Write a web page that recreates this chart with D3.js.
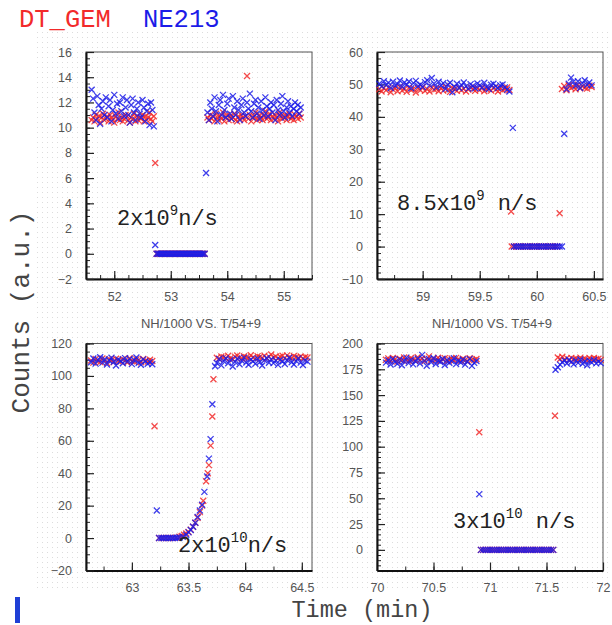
<!DOCTYPE html>
<html>
<head>
<meta charset="utf-8">
<script src="https://cdn.jsdelivr.net/npm/d3@7"></script>
<style>
  body { margin: 0; background: #fff; }
  svg { display: block; }
</style>
</head>
<body>
<svg id="chart" width="612" height="625"></svg>
<script>
// ---- data: runs are [startTime, step, values] or [times, values] ----
// panel 1 (2e9 n/s)
const gem1 = [
  [51.60, 0.025, [10.6,10.8,10.5,11.0,10.7,10.9,10.4,10.8,11.1,10.6,10.7,10.9,10.5,11.0,10.8,10.6,10.4,10.9,10.7,11.2,10.6,10.8,10.5,10.7,11.0,10.9,10.6,10.4,10.8,10.7,11.1,10.5,10.9,10.6,10.8,10.7,11.0,10.5,10.9,10.6,10.8,11.2,10.7,10.5,10.9]],
  [52.725, 0.025, [7.2]],
  [52.75, 0.025, [0,0,0,0,0,0,0,0,0,0,0,0,0,0,0,0,0,0,0,0,0,0,0,0,0,0,0,0,0,0,0,0,0,0,0]],
  [53.65, 0.025, [10.8,10.6,11.0,10.7,10.9,10.5,11.1,10.8,10.6,10.9,10.7,11.2,10.5,10.8,11.0,10.6,10.9,10.7,10.8,11.1,10.6,10.5,10.9,10.7,11.0,10.8,10.6,10.9,14.1,10.7,11.0,10.5,10.8,10.9,11.2,10.6,10.7,11.0,10.8,10.6,10.9,11.3,10.7,10.8,11.1,10.6,10.9,10.7,11.0,10.8,10.5,11.2,10.9,10.7,10.8,11.0,10.6,10.9,11.1,10.7,10.8,10.6,11.0,10.9,10.7,11.1,10.8]]
];
const ne1 = [
  [51.60, 0.025, [13.0,12.3,11.2,10.6,12.5,11.8,10.3,11.5,12.1,11.0,12.4,10.8,11.7,12.2,10.5,11.4,12.6,11.1,11.9,10.7,12.0,11.3,12.4,10.9,11.6,12.2,11.0,10.4,11.8,12.3,11.2,10.6,11.5,12.0,11.1,10.8,12.2,11.6,10.5,11.3,11.9,10.2,12.0,11.4,10.1]],
  [52.725, 0.025, [0.7]],
  [52.75, 0.025, [0,0,0,0,0,0,0,0,0,0,0,0,0,0,0,0,0,0,0,0,0,0,0,0,0,0,0,0,0,0,0,0,0,0,0]],
  [53.625, 0.025, [6.4]],
  [53.65, 0.025, [11.2,10.6,12.0,11.5,10.9,12.4,11.3,10.5,11.8,12.2,11.0,12.6,11.4,10.8,11.9,12.3,11.1,10.7,12.5,11.6,11.0,12.1,11.4,10.6,11.8,12.3,11.2,10.9,12.0,11.5,12.7,11.3,10.8,11.9,12.2,11.1,11.6,10.7,12.1,11.4,11.0,12.4,11.7,10.9,11.5,12.0,11.2,11.8,10.6,12.2,11.4,11.0,11.9,12.5,11.3,10.8,11.6,12.1,11.2,11.7,10.9,11.5,12.0,11.3,11.8,11.1,11.6]]
];

// panel 2 (8.5e9 n/s)
const gem2 = [
  [58.62, 0.02, [48.5,47.8,48.9,48.2,49.1,47.6,48.4,48.8,47.9,49.3,48.1,48.6,47.7,49.0,48.3,48.7,47.5,48.9,48.2,49.2,48.0,48.5,47.8,49.1,48.4,48.6,47.9,48.8,48.1,49.4,48.3,47.7,48.9,48.5,48.0,49.0,48.2,48.7,47.8,48.4,49.1,48.6,48.0,48.8,48.3,49.2,47.9,48.5,48.7,48.1,49.0,48.4,47.8,48.9,48.2,48.6,49.1,48.3]],
  [59.775, 0.02, [10.8]],
  [59.78, 0.02, [0,0,0,0,0,0,0,0,0,0,0,0,0,0,0,0,0,0,0,0,0]],
  [60.20, 0.02, [10.3]],
  [60.22, 0.02, [48.6,49.5,48.2,49.8,48.9,49.3,48.5,49.9,48.8,49.4,49.0,48.7,49.6,49.2]]
];
const ne2 = [
  [58.62, 0.02, [50.2,49.4,51.0,49.8,50.5,48.9,50.8,49.6,50.1,51.2,49.3,50.6,49.9,50.9,48.8,50.4,51.1,49.5,50.0,49.2,50.7,51.3,49.7,52.0,50.3,49.1,50.8,49.6,50.4,48.6,49.9,50.5,47.6,49.3,50.2,48.9,49.8,50.6,49.4,48.7,50.1,49.5,48.8,50.3,49.7,49.0,50.5,49.2,48.6,49.9,50.2,49.4,48.9,49.7,50.0,49.1,48.4,47.8]],
  [59.79, 0.02, [36.6]],
  [59.80, 0.02, [0,0,0,0,0,0,0,0,0,0,0,0,0,0,0,0,0,0,0,0,0,0]],
  [60.24, 0.02, [34.8]],
  [60.26, 0.02, [48.5,50.2,52.1,50.8,49.6,51.0,48.9,50.4,51.3,49.8,50.6,49.7]]
];

// panel 3 (2e10 n/s)
const rise3Time = [63.24,63.27,63.30,63.33,63.36,63.39,63.42,63.44,63.46,63.48,63.50,63.52,63.54,63.56,63.58,63.60,63.62,63.63,63.655,63.67,63.68,63.695,63.71,63.72];
const rise3Gem  = [0,0,0,0,0,0.3,0.8,1.3,2,2.8,3.8,5.2,7,9.5,12.5,16,20,23,35,40,45,57,75,98];
const rise3NeTime = [63.24,63.26,63.28,63.30,63.32,63.34,63.36,63.38,63.40,63.42,63.45,63.48,63.50,63.52,63.54,63.56,63.58,63.60,63.62,63.64,63.665,63.68,63.695,63.71,63.735];
const rise3Ne     = [0,0,0,0,0,0,0,0,0.2,0.4,0.8,2,3.5,5,7,9.5,13,17,20.5,28.5,38,49,61,82.5,106];
const gem3 = [
  [62.64, 0.02, [109.5,108.2,110.4,109.0,108.6,110.8,109.3,108.0,110.1,109.7,108.5,110.6,109.2,108.8,110.3,109.6,108.3,110.9,109.1,108.7,110.2,109.8,108.4,110.5,109.4,108.9,110.0,109.2]],
  [63.20, 0.02, [69]],
  [rise3Time, rise3Gem],
  [63.75, 0.02, [111.2,110.5,112.0,111.6,110.8,112.4,111.0,110.3,111.9,112.6,111.3,110.7,112.1,111.5,110.9,112.8,111.4,110.6,112.2,111.7,111.1,112.5,110.8,111.9,113.2,111.3,112.0,110.7,111.8,112.4,111.0,112.7,111.5,110.9,112.3,111.6,111.2,112.0,110.8,111.7,111.4]]
];
const ne3 = [
  [62.64, 0.02, [108.4,110.8,107.6,109.9,111.5,108.2,110.3,107.1,109.5,111.2,108.7,106.4,110.1,109.3,107.8,111.0,108.9,110.5,107.3,109.8,111.4,108.1,106.9,110.2,109.0,107.5,108.6,107.2]],
  [63.22, 0.02, [17]],
  [rise3NeTime, rise3Ne],
  [63.75, 0.02, [108.0,110.4,106.5,109.2,111.0,107.8,109.9,105.8,108.7,110.6,107.2,109.4,111.3,108.3,106.9,110.1,109.0,107.5,110.8,108.6,106.4,109.7,111.1,108.1,110.3,107.9,109.5,106.8,110.0,108.9,107.4,109.8,111.2,108.4,107.0,109.3,110.7,108.2,106.7,109.6,108.8]]
];

// panel 4 (3e10 n/s)
const gem4 = [
  [70.08, 0.02, [184.2,185.6,183.1,186.0,184.8,182.5,185.3,183.8,186.4,184.0,182.9,185.9,184.5,183.3,186.8,184.1,185.4,182.7,184.9,187.5,183.6,185.1,184.3,186.2,183.0,184.7,185.8,182.8,184.4,185.5,183.5,186.1,184.6,183.2,185.2,184.0,182.6,185.7,184.3,183.9,185.0]],
  [70.905, 0.02, [114]],
  [70.92, 0.02, [0,0,0,0,0,0,0,0,0,0,0,0,0,0,0,0,0,0,0,0,0,0,0,0,0,0,0,0,0,0,0,0,0]],
  [71.575, 0.02, [130]],
  [71.60, 0.02, [186.5,185.0,187.2,184.3,185.8,183.6,186.1,184.8,185.4,183.9,186.3,184.6,185.2,183.7,185.9,184.4,186.0,184.9,185.3,184.1]]
];
const ne4 = [
  [70.08, 0.02, [181.5,183.8,179.6,185.0,182.2,180.4,184.6,178.9,183.1,186.3,181.0,184.2,179.8,182.7,185.5,180.6,189.0,183.4,178.5,184.9,181.8,186.0,180.2,183.6,182.0,185.3,179.2,184.0,181.4,182.9,185.7,180.0,183.3,181.6,184.5,179.5,182.4,185.1,178.3,181.2,183.0]],
  [70.905, 0.02, [54]],
  [70.92, 0.02, [0,0,0,0,0,0,0,0,0,0,0,0,0,0,0,0,0,0,0,0,0,0,0,0,0,0,0,0,0,0,0,0,0]],
  [71.58, 0.02, [174.5,177.0,179.5,181.8,183.5,180.6,184.2,182.1,179.8,183.6,181.2,184.5,180.4,182.8,178.9,183.3,181.5,184.0,180.7,182.5,181.0]]
];

// tick labels
const xTicks1 = [52, 53, 54, 55];
const yTicks1 = [-2, 0, 2, 4, 6, 8, 10, 12, 14, 16];
const xTicks2 = [59, 59.5, 60, 60.5];
const yTicks2 = [-10, 0, 10, 20, 30, 40, 50, 60];
const xTicks3 = [63, 63.5, 64, 64.5];
const yTicks3 = [-20, 0, 20, 40, 60, 80, 100, 120];
const xTicks4 = [70, 70.5, 71, 71.5, 72];
const yTicks4 = [0, 25, 50, 75, 100, 125, 150, 175, 200];

const seriesNames = ["DT_GEM", "NE213"];
const panelTitle = "NH/1000 VS. T/54+9";

// ---- drawing ----
const svg = d3.select("#chart");
const red = "#f22a2a", blue = "#1c1ce8";
const mono = "'Liberation Mono','Courier New',monospace";
const sans = "'Liberation Sans',Arial,sans-serif";

// dotted screenshot background
const defs = svg.append("defs");
defs.append("pattern").attr("id", "dots").attr("width", 5).attr("height", 5)
  .attr("patternUnits", "userSpaceOnUse")
  .append("rect").attr("x", 2).attr("y", 2).attr("width", 1).attr("height", 1).attr("fill", "#dcdcdc");
svg.append("rect").attr("x", 35).attr("y", 32).attr("width", 577).attr("height", 558).attr("fill", "url(#dots)");

function expand(runs) {
  let pts = [];
  runs.forEach(r => {
    if (Array.isArray(r[0])) {
      r[0].forEach((t, i) => pts.push({t: t, v: r[1][i]}));
    } else {
      r[2].forEach((v, i) => pts.push({t: r[0] + i * r[1], v: v}));
    }
  });
  return pts;
}

const panels = [
  {left: 86, top: 52, xd: [51.5, 55.5], yd: [-2, 16], xt: xTicks1, yt: yTicks1, xm: 0.25, ym: 0.5, gem: gem1, ne: ne1, title: false},
  {left: 377, top: 52, xd: [58.6, 60.58], yd: [-10, 60], xt: xTicks2, yt: yTicks2, xm: 0.25, ym: 2, gem: gem2, ne: ne2, title: false},
  {left: 86, top: 343.5, xd: [62.595, 64.59], yd: [-20, 120], xt: xTicks3, yt: yTicks3, xm: 0.25, ym: 5, gem: gem3, ne: ne3, title: true},
  {left: 377, top: 343.5, xd: [70, 72], yd: [-20, 200], xt: xTicks4, yt: yTicks4, xm: 0.25, ym: 5, gem: gem4, ne: ne4, title: true}
];
const pw = 226, ph = 227;

panels.forEach(p => {
  const g = svg.append("g").attr("transform", "translate(" + p.left + "," + p.top + ")");
  const x = d3.scaleLinear().domain(p.xd).range([0, pw]);
  const y = d3.scaleLinear().domain(p.yd).range([ph, 0]);

  // frame
  g.append("rect").attr("width", pw).attr("height", ph)
    .attr("fill", "none").attr("stroke", "#555").attr("stroke-width", 1);

  // minor ticks
  const xMinor = d3.range(Math.ceil(p.xd[0] / p.xm) * p.xm, p.xd[1] + 1e-9, p.xm);
  const yMinor = d3.range(p.yd[0], p.yd[1] + 1e-9, p.ym);
  g.append("g").attr("transform", "translate(0," + ph + ")")
    .call(d3.axisBottom(x).tickValues(xMinor).tickSizeInner(-4).tickSizeOuter(0).tickFormat(""))
    .call(a => a.select(".domain").remove())
    .selectAll("line").attr("stroke", "#222");
  g.append("g")
    .call(d3.axisLeft(y).tickValues(yMinor).tickSizeInner(-4).tickSizeOuter(0).tickFormat(""))
    .call(a => a.select(".domain").remove())
    .selectAll("line").attr("stroke", "#222");

  // major ticks + labels
  const xa = g.append("g").attr("transform", "translate(0," + ph + ")")
    .call(d3.axisBottom(x).tickValues(p.xt).tickSizeInner(-8).tickSizeOuter(0).tickPadding(13).tickFormat(d3.format("")));
  const ya = g.append("g")
    .call(d3.axisLeft(y).tickValues(p.yt).tickSizeInner(-8).tickSizeOuter(0).tickPadding(14).tickFormat(d3.format("")));
  [xa, ya].forEach(a => {
    a.select(".domain").attr("stroke", "#111").attr("stroke-width", 2);
    a.selectAll("line").attr("stroke", "#222").attr("stroke-width", 1.2);
    a.selectAll("text").attr("font-family", sans).attr("font-size", 12.5).attr("fill", "#555");
  });

  if (p.title) {
    g.append("text").attr("x", pw / 2 + 2).attr("y", -16).attr("text-anchor", "middle")
      .attr("font-family", sans).attr("font-size", 13).attr("fill", "#555").text(panelTitle);
  }

  // markers
  [[p.gem, red], [p.ne, blue]].forEach(([runs, col]) => {
    g.append("g").selectAll("path").data(expand(runs)).enter().append("path")
      .attr("transform", d => "translate(" + x(d.t) + "," + y(d.v) + ")")
      .attr("d", "M-3,-3L3,3M-3,3L3,-3")
      .attr("stroke", col).attr("stroke-width", 1.3).attr("opacity", 0.85).attr("fill", "none");
  });
});

// rate annotations
function rate(xp, yp, base, exp, tail) {
  const t = svg.append("text").attr("x", xp).attr("y", yp)
    .attr("font-family", mono).attr("font-size", 22).attr("fill", "#222");
  t.append("tspan").text(base);
  t.append("tspan").attr("dy", -10).attr("font-size", 14).text(exp);
  t.append("tspan").attr("dy", 10).text(tail);
}
rate(117, 225, "2x10", "9", "n/s");
rate(397, 210, "8.5x10", "9", " n/s");
rate(178, 552, "2x10", "10", "n/s");
rate(453, 528, "3x10", "10", " n/s");

// legend
svg.append("text").attr("x", 19).attr("y", 27).attr("font-family", mono).attr("font-size", 25.5)
  .attr("fill", red).text(seriesNames[0]);
svg.append("text").attr("x", 143).attr("y", 27).attr("font-family", mono).attr("font-size", 25.5)
  .attr("fill", blue).text(seriesNames[1]);

// axis titles
svg.append("text").attr("transform", "translate(29,312) rotate(-90)").attr("text-anchor", "middle")
  .attr("font-family", mono).attr("font-size", 26).attr("fill", "#444").text("Counts (a.u.)");
svg.append("text").attr("x", 362).attr("y", 617).attr("text-anchor", "middle")
  .attr("font-family", mono).attr("font-size", 23.5).attr("fill", "#444").text("Time (min)");

// blue bar bottom-left
svg.append("rect").attr("x", 15).attr("y", 597).attr("width", 5).attr("height", 26).attr("fill", "#1f3fd6");
</script>
</body>
</html>
